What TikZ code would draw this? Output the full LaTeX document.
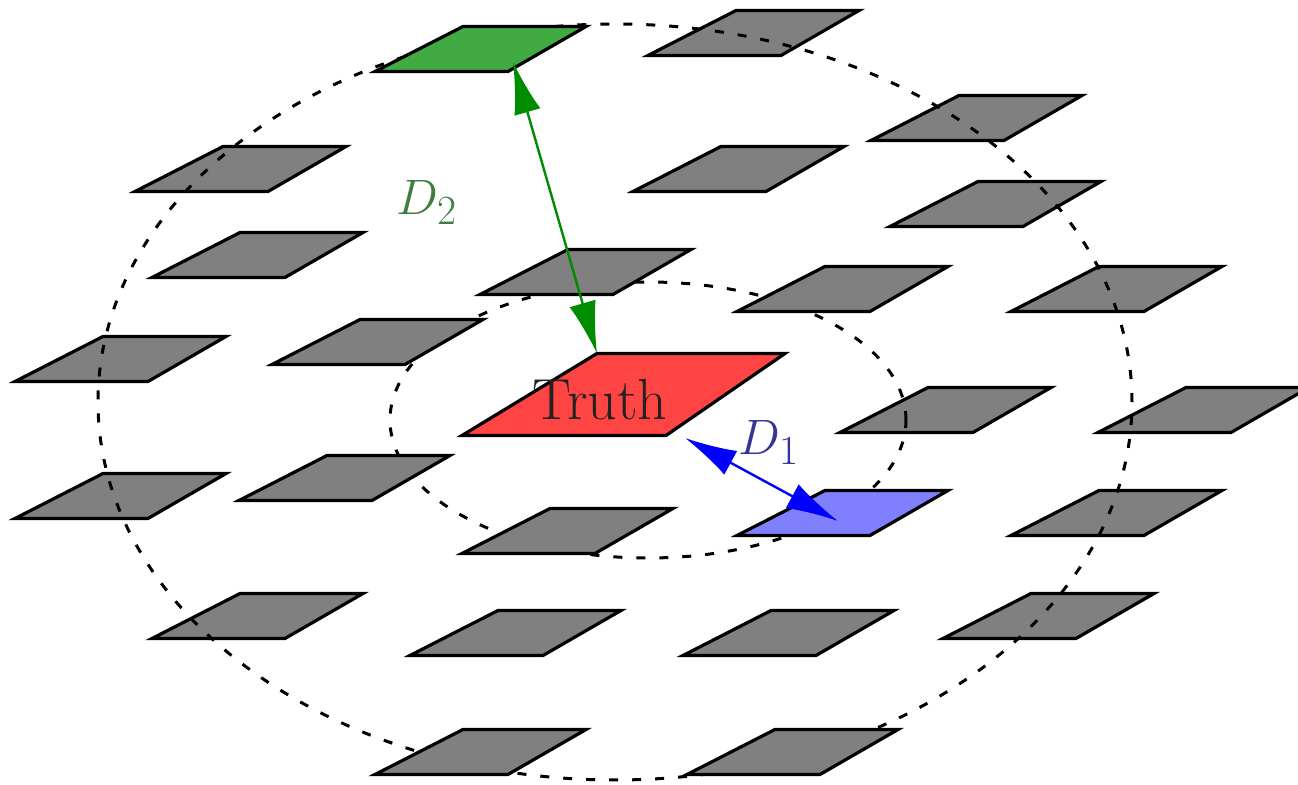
\documentclass[tikz,border=0pt]{standalone}
\usetikzlibrary{arrows.meta}
\definecolor{tilegray}{RGB}{128,128,128}
\definecolor{tilegreen}{RGB}{66,170,66}
\definecolor{tilered}{RGB}{255,68,68}
\definecolor{tileblue}{RGB}{128,128,255}
\definecolor{arrgreen}{RGB}{0,140,0}
\definecolor{arrblue}{RGB}{0,0,255}
\definecolor{dtwo}{RGB}{61,125,61}
\definecolor{done}{RGB}{51,51,153}
\definecolor{truthtext}{RGB}{34,34,34}
\tikzset{
  tile/.style={draw=black, line width=1.6pt, line join=miter},
  ring/.style={draw=black, line width=1.5pt, dash pattern=on 4.5pt off 7pt},
  dist/.style={line width=1.2pt, {Latex[length=26pt,width=13.5pt]}-{Latex[length=26pt,width=13.5pt]}},
  lab/.style={font=\fontsize{29}{34}\selectfont, inner sep=0pt, anchor=base},
}
\newcommand\tile[4]{\draw[tile, fill=#4, shift={(#2,#3)}] (2,-1.5) coordinate (#1-bl) -- (135,-1.5) coordinate (#1-br) -- (213,-46.5) coordinate (#1-tr) -- (90,-46.5) coordinate (#1-tl) -- cycle;}
\begin{document}
\begin{tikzpicture}[x=0.5pt, y=-0.5pt]
\useasboundingbox (0,0) rectangle (1298,785);
% tiles below the rings
\tile{t1}{646}{57}{tilegray}
\tile{t2}{869}{142}{tilegray}
\tile{t3}{888}{228}{tilegray}
\tile{t4}{1009}{313}{tilegray}
\tile{t5}{1096}{434}{tilegray}
\tile{t6}{1009}{537}{tilegray}
\tile{t7}{941}{640}{tilegray}
\tile{t8}{150}{640}{tilegray}
\tile{t9}{13}{520}{tilegray}
\tile{t10}{13}{383}{tilegray}
\tile{t11}{133}{193}{tilegray}
\tile{t12}{838}{434}{tilegray}
% rings
\draw[ring] (615,402) ellipse [x radius=258.5pt, y radius=189pt];
\draw[ring] (648,420) ellipse [x radius=129pt, y radius=69pt];
% tiles above the rings
\tile{g}{373}{73}{tilegreen}
\tile{t13}{685}{776}{tilegray}
\tile{t14}{373}{776}{tilegray}
\tile{t15}{478}{296}{tilegray}
\tile{t16}{735}{313}{tilegray}
\tile{b}{735}{537}{tileblue}
\tile{t17}{460}{555}{tilegray}
\tile{t18}{270}{366}{tilegray}
\tile{t19}{631}{193}{tilegray}
\tile{t20}{150}{279}{tilegray}
\tile{t21}{237}{502}{tilegray}
\tile{t22}{408}{657}{tilegray}
\tile{t23}{681}{657}{tilegray}
% truth tile
\draw[tile, fill=tilered] (462,435.5) coordinate (r-bl) -- (666,435.5) coordinate (r-br) -- (785,353.5) coordinate (r-tr) -- (597,353.5) coordinate (r-tl) -- cycle;
\node[lab, text=truthtext] (truth) at (600,420) {Truth};
% distances
\coordinate (g-tip) at (513,62);
\coordinate (r-tip) at (685,438);
\coordinate (b-tip) at (838,521);
\draw[dist, arrgreen] (g-tip) -- (r-tl);
\draw[dist, arrblue] (r-tip) -- (b-tip);
\node[lab, text=dtwo] (d2) at (427,215) {$D_2$};
\node[lab, text=done] (d1) at (769,455) {$D_1$};
\end{tikzpicture}
\end{document}
